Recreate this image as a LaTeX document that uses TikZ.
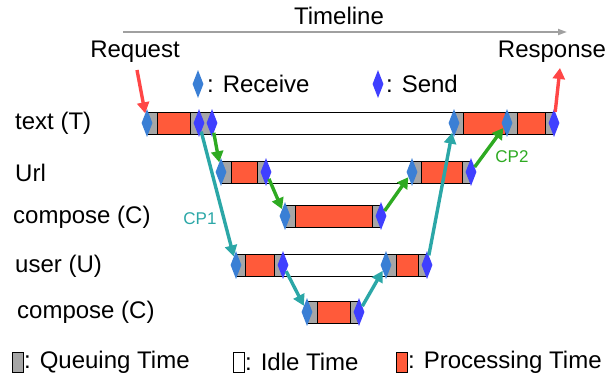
\documentclass[tikz,border=0pt]{standalone}
\usepackage{fontspec}
\setmainfont{Liberation Sans}
\usetikzlibrary{shapes.geometric,arrows.meta}
\definecolor{procred}{HTML}{FF5A3A}
\definecolor{qgray}{HTML}{A6A6A6}
\definecolor{rcvblue}{HTML}{3A7FD5}
\definecolor{sndblue}{HTML}{3F3FFF}
\definecolor{cpteal}{HTML}{2BA7A7}
\definecolor{cpgreen}{HTML}{2EAA22}
\definecolor{reqred}{HTML}{FF4646}
\definecolor{tlgray}{HTML}{A0A0A0}
\begin{document}
\begin{tikzpicture}[x=1pt,y=-1pt,
  font=\fontsize{24}{28}\selectfont,
  rcv/.style={shape=diamond, fill=rcvblue, minimum width=11pt, minimum height=28pt, inner sep=0pt},
  snd/.style={shape=diamond, fill=sndblue, minimum width=11pt, minimum height=28pt, inner sep=0pt},
  queue/.style={fill=qgray, draw=black, line width=0.8pt},
  proc/.style={fill=procred, draw=black, line width=0.8pt},
  idle/.style={fill=white, draw=black, line width=0.8pt},
  lbl/.style={anchor=west, inner sep=0pt},
  flow/.style={line width=3.4pt, -{Triangle[length=11pt,width=12pt]}},
  tealarrow/.style={flow, draw=cpteal, fill=cpteal},
  greenarrow/.style={flow, draw=cpgreen, fill=cpgreen},
  redarrow/.style={flow, draw=reqred, fill=reqred},
  lbox/.style={draw=black, line width=0.6pt, minimum width=11pt, minimum height=20pt, inner sep=0pt}
]
\useasboundingbox (0,0) rectangle (611,381);

% timeline
\node (tl) at (339,16) {Timeline};
\coordinate (tla) at (123,32);
\coordinate (tlb) at (567,32);
\draw[draw=tlgray, fill=tlgray, line width=1.8pt, -{Triangle[length=9pt,width=6pt]}] (tla) -- (tlb);
\node (req) at (135,52) {Request};
\node (resp) at (552,52) {Response};

% receive / send legend
\node[rcv] (lr) at (198,84) {};
\node[lbl] (lrt) at (207,84) {: Receive};
\node[snd] (ls) at (378,84) {};
\node[lbl] (lst) at (386,84) {: Send};

% row labels
\node[lbl] (t1) at (15,123) {text (T)};
\node[lbl] (t2) at (15,173) {Url};
\node[lbl] (t3) at (13,217) {compose (C)};
\node[lbl] (t4) at (15,266) {user (U)};
\node[lbl] (t5) at (17,312) {compose (C)};

% row 1
\draw[queue] (146,112) rectangle (157,134);
\draw[proc]  (157,112) rectangle (190,134);
\draw[queue] (190,112) rectangle (211,134);
\draw[idle]  (211,112) rectangle (453,134);
\draw[queue] (453,112) rectangle (463,134);
\draw[proc]  (463,112) rectangle (505,134);
\draw[queue] (505,112) rectangle (517,134);
\draw[proc]  (517,112) rectangle (545,134);
\draw[queue] (545,112) rectangle (554,134);
% row 2
\draw[queue] (221,161) rectangle (231,183);
\draw[proc]  (231,161) rectangle (257,183);
\draw[queue] (257,161) rectangle (266,183);
\draw[idle]  (266,161) rectangle (412,183);
\draw[queue] (412,161) rectangle (421,183);
\draw[proc]  (421,161) rectangle (462,183);
\draw[queue] (462,161) rectangle (471,183);
% row 3
\draw[queue] (285,205) rectangle (295,227);
\draw[proc]  (295,205) rectangle (372,227);
\draw[queue] (372,205) rectangle (381,227);
% row 4
\draw[queue] (236,254) rectangle (245,276);
\draw[proc]  (245,254) rectangle (274,276);
\draw[queue] (274,254) rectangle (283,276);
\draw[idle]  (283,254) rectangle (386,276);
\draw[queue] (386,254) rectangle (396,276);
\draw[proc]  (396,254) rectangle (418,276);
\draw[queue] (418,254) rectangle (427,276);
% row 5
\draw[queue] (307,301) rectangle (317,323);
\draw[proc]  (317,301) rectangle (350,323);
\draw[queue] (350,301) rectangle (359,323);

% diamonds
\node[rcv] (r1a) at (147,123) {};
\node[snd] (s1a) at (199,123) {};
\node[snd] (s1b) at (212,123) {};
\node[rcv] (r1b) at (454,123) {};
\node[rcv] (r1c) at (507,123) {};
\node[snd] (s1c) at (554,123) {};
\node[rcv] (r2a) at (221,172) {};
\node[snd] (s2a) at (266,172) {};
\node[rcv] (r2b) at (412,172) {};
\node[snd] (s2b) at (471,172) {};
\node[rcv] (r3a) at (285,216) {};
\node[snd] (s3a) at (381,216) {};
\node[rcv] (r4a) at (236,265) {};
\node[snd] (s4a) at (283,265) {};
\node[rcv] (r4b) at (386,265) {};
\node[snd] (s4b) at (427,265) {};
\node[rcv] (r5a) at (307,312) {};
\node[snd] (s5a) at (359,312) {};

% request / response
\coordinate (reqs) at (137,70);
\coordinate (respe) at (560,68);
\draw[redarrow] (reqs) -- (r1a);
\draw[redarrow] (s1c) -- (respe);

% CP1 (teal)
\draw[tealarrow] (s1a) -- (r4a);
\draw[tealarrow] (s4a) -- (r5a);
\draw[tealarrow] (s5a) -- (r4b);
\draw[tealarrow] (s4b) -- (r1b);
\node[text=cpteal, font=\fontsize{17}{20}\selectfont] (cp1) at (200,219) {CP1};

% CP2 (green)
\draw[greenarrow] (s1b) -- (r2a);
\draw[greenarrow] (s2a) -- (r3a);
\draw[greenarrow] (s3a) -- (r2b);
\draw[greenarrow] (s2b) -- (r1c);
\node[text=cpgreen, font=\fontsize{17}{20}\selectfont] (cp2) at (512,157) {CP2};

% bottom legend
\node[lbox, fill=qgray] (lq) at (18,362) {};
\node[lbl] (lqt) at (24,362) {: Queuing Time};
\node[lbox, fill=white] (li) at (239,362) {};
\node[lbl] (lit) at (245,362) {: Idle Time};
\node[lbox, fill=procred] (lp) at (402,362) {};
\node[lbl] (lpt) at (408,362) {: Processing Time};
\end{tikzpicture}
\end{document}
